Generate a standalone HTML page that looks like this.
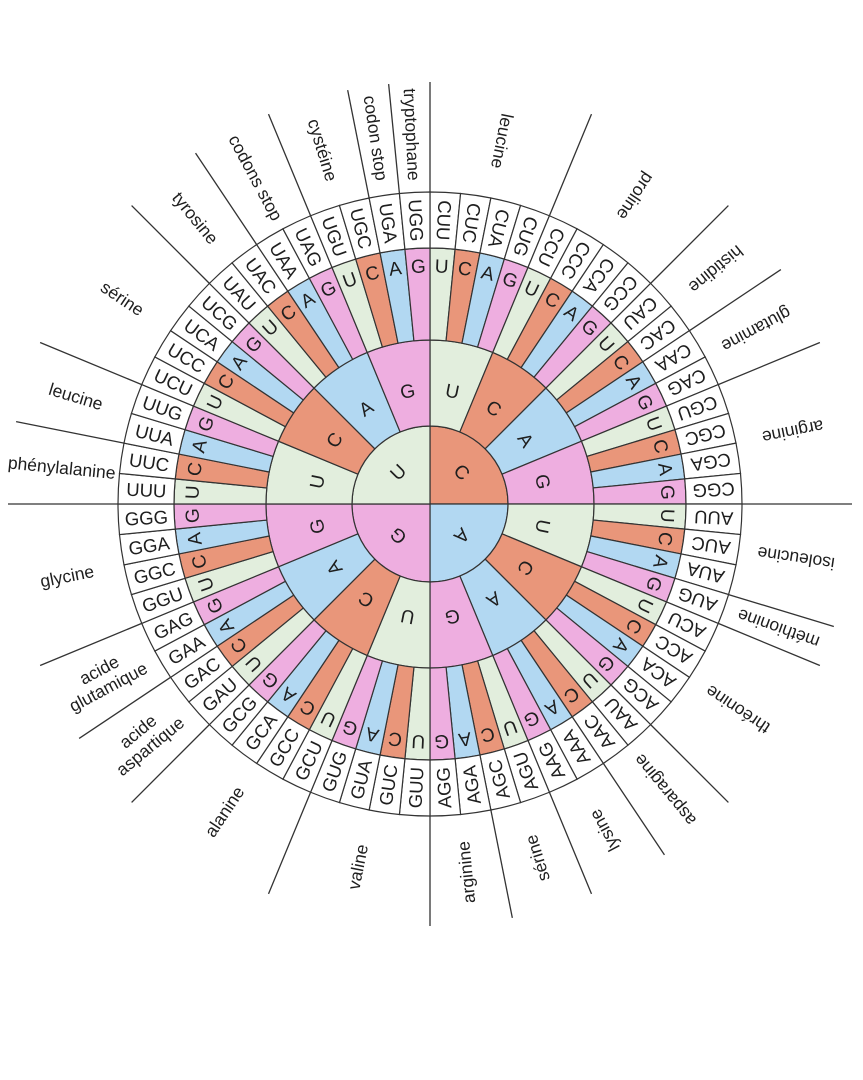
<!DOCTYPE html>
<html><head><meta charset="utf-8">
<style>
html,body{margin:0;padding:0;background:#fff;}
svg{display:block;}
text{font-family:"Liberation Sans",sans-serif;fill:#1e1e1e;}
</style></head>
<body>
<svg id="wheel" width="863" height="1080" viewBox="0 0 863 1080" xmlns="http://www.w3.org/2000/svg"></svg>
<script>
// Data
const bases = ["U","C","A","G"];
const firstOrder = ["C","A","G","U"]; // clockwise from top
const aminoGroups = ["leucine","proline","histidine","glutamine","arginine","isoleucine","méthionine","thréonine","asparagine","lysine","sérine","arginine","valine","alanine","acide|aspartique","acide|glutamique","glycine","phénylalanine","leucine","sérine","tyrosine","codons stop","cystéine","codon stop","tryptophane"];
const groupStarts = [0,4,8,10,12,16,19,20,24,26,28,30,32,36,40,42,44,48,50,52,56,58,60,62,63];
const baseColors = {U:"#e2eedd",C:"#e9967a",A:"#b2d8f2",G:"#eeaee0"};

const svg = document.getElementById('wheel');
const NS = "http://www.w3.org/2000/svg";
const cx = 430, cy = 504;
const R1 = 78, R2 = 164, R3 = 256, R4 = 312, RL = 422;
const step = 360/64;
function pt(r, a){ const t = a*Math.PI/180; return [cx + r*Math.sin(t), cy - r*Math.cos(t)]; }
function sector(r0, r1, a0, a1){
  const [x0,y0]=pt(r1,a0),[x1,y1]=pt(r1,a1),[x2,y2]=pt(r0,a1),[x3,y3]=pt(r0,a0);
  const lg = (a1-a0)>180?1:0;
  if(r0===0) return `M${cx},${cy}L${x0},${y0}A${r1},${r1} 0 ${lg} 1 ${x1},${y1}Z`;
  return `M${x0},${y0}A${r1},${r1} 0 ${lg} 1 ${x1},${y1}L${x2},${y2}A${r0},${r0} 0 ${lg} 0 ${x3},${y3}Z`;
}
function addPath(d, fill, name){
  const p = document.createElementNS(NS,'path');
  p.setAttribute('d', d); p.setAttribute('fill', fill);
  p.setAttribute('stroke', '#333'); p.setAttribute('stroke-width', '1.2');
  
  
  svg.appendChild(p);
}
function addText(str, r, a, rot, size, name){
  const [x,y] = pt(r,a);
  const t = document.createElementNS(NS,'text');
  t.setAttribute('x', x); t.setAttribute('y', y);
  t.setAttribute('text-anchor','middle'); t.setAttribute('dominant-baseline','central');
  t.setAttribute('font-size', size);
  t.setAttribute('transform', `rotate(${rot},${x},${y})`);
  
  
  const parts = str.split('|');
  if(parts.length===1){ t.textContent = str; }
  else parts.forEach((s,i)=>{
    const ts = document.createElementNS(NS,'tspan');
    ts.setAttribute('x', x); ts.setAttribute('dy', i===0 ? (-0.55*(parts.length-1))+'em' : '1.1em');
    ts.textContent = s; t.appendChild(ts);
  });
  svg.appendChild(t);
}

firstOrder.forEach((b1,i)=>{
  const a0 = i*90;
  addPath(sector(0,R1,a0,a0+90), baseColors[b1], 'first-base-'+b1);
  addText(b1, 44, a0+45, a0+45, 19, 'first-base-label');
  bases.forEach((b2,j)=>{
    const s0 = a0 + j*22.5;
    addPath(sector(R1,R2,s0,s0+22.5), baseColors[b2], 'second-base-'+b1+b2);
    addText(b2, 114, s0+11.25, s0+11.25, 19, 'second-base-label');
    bases.forEach((b3,k)=>{
      const t0 = s0 + k*step;
      addPath(sector(R2,R3,t0,t0+step), baseColors[b3], 'third-base-'+b1+b2+b3);
      addText(b3, 237, t0+step/2, t0+step/2, 19, 'third-base-label');
      addPath(sector(R3,R4,t0,t0+step), '#fff', 'codon-cell');
      addText(b1+b2+b3, 284, t0+step/2, t0+step/2+90, 18.5, 'codon-'+b1+b2+b3);
    });
  });
});
// group separator lines and amino-acid labels
groupStarts.forEach((g,i)=>{
  const a = g*step;
  const [x0,y0]=pt(R4,a),[x1,y1]=pt(RL,a);
  const l = document.createElementNS(NS,'line');
  l.setAttribute('x1',x0);l.setAttribute('y1',y0);l.setAttribute('x2',x1);l.setAttribute('y2',y1);
  l.setAttribute('stroke','#333');l.setAttribute('stroke-width','1.3');
  
  
  svg.appendChild(l);
  const end = i+1<groupStarts.length ? groupStarts[i+1] : 64;
  const mid = (g+end)/2*step;
  addText(aminoGroups[i], 370, mid, mid+90, 17.5, 'amino-acid-label');
});
</script>
</body></html>
